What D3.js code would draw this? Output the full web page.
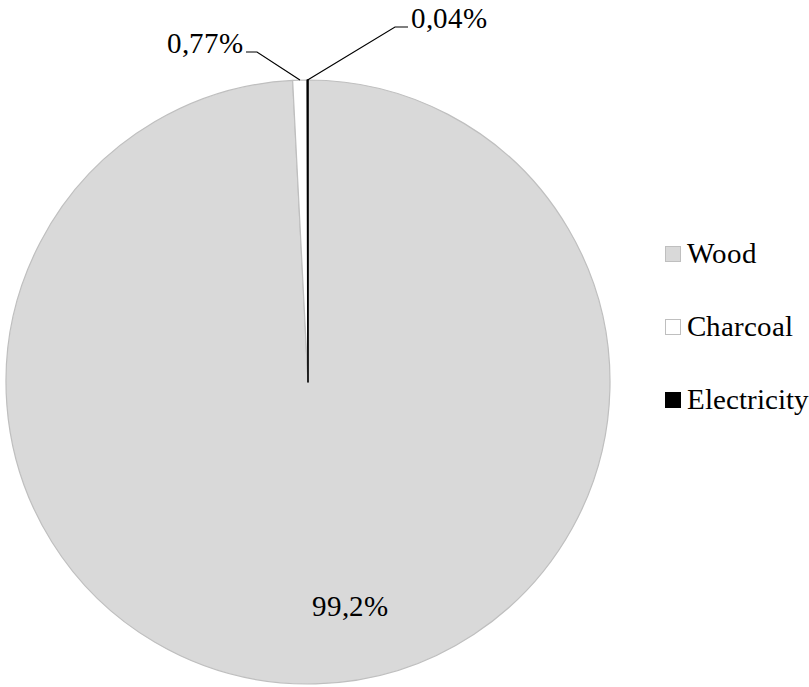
<!DOCTYPE html>
<html>
<head>
<meta charset="utf-8">
<script src="https://cdn.jsdelivr.net/npm/d3@7"></script>
<style>
  @font-face {
    font-family: "ChartSerif";
    src: local("Liberation Serif"), local("LiberationSerif"), local("LiberationSerif-Regular"), local("Times New Roman"), local("Tinos");
  }
  body { margin: 0; font-family: "ChartSerif"; }
  svg text { font-family: "ChartSerif"; }
</style>
</head>
<body>
<svg id="chart" width="809" height="687"></svg>
<script>
// Household energy sources (share of total, %)
const categories = ["Wood", "Charcoal", "Electricity"];
const values = [99.2, 0.77, 0.04];
const valueLabels = ["99,2%", "0,77%", "0,04%"];

const fills = ["#d9d9d9", "#ffffff", "#000000"];
const strokes = ["#bfbfbf", "#bfbfbf", "#000000"];

const cx = 308, cy = 382, R = 302;
const fontSize = 29;

const svg = d3.select("#chart").style("display", "block");

const data = categories.map((c, i) => ({ name: c, value: values[i], label: valueLabels[i], i }));

const pie = d3.pie().sort(null).value(d => d.value);
const arcs = pie(data);
const arc = d3.arc().innerRadius(0).outerRadius(R);

const g = svg.append("g").attr("transform", `translate(${cx},${cy})`);

g.selectAll("path.slice")
  .data(arcs)
  .join("path")
  .attr("class", "slice")
  .attr("d", arc)
  .attr("fill", d => fills[d.data.i])
  .attr("stroke", d => strokes[d.data.i])
  .attr("stroke-width", d => d.data.i === 2 ? 1.6 : 1.2)
  .attr("stroke-linejoin", "round");

// Point on the outer rim at the middle angle of a slice
function rimPoint(a) {
  const m = (a.startAngle + a.endAngle) / 2;
  return [R * Math.sin(m), -R * Math.cos(m)];
}

function label(sel) {
  return sel
    .style("font-family", '"ChartSerif"')
    .attr("font-size", fontSize)
    .attr("fill", "#000");
}

// Large slice: label inside the pie
const woodArc = arcs[0];
const woodLabel = d3.arc().innerRadius(R * 0.76).outerRadius(R * 0.76).centroid(woodArc);
g.append("text")
  .attr("x", woodLabel[0] + 36)
  .attr("y", woodLabel[1] + 5)
  .attr("text-anchor", "middle")
  .call(label)
  .text(woodArc.data.label);

// Small slices: labels outside with elbow leader lines
const callouts = [
  { arc: arcs[1], elbow: [-51, -330], end: [-62, -330], side: -1 },
  { arc: arcs[2], elbow: [87, -355], end: [100, -355], side: 1 }
];

callouts.forEach(c => {
  const p0 = rimPoint(c.arc);
  g.append("path")
    .attr("d", d3.line()([p0, c.elbow, c.end]))
    .attr("fill", "none")
    .attr("stroke", "#000")
    .attr("stroke-width", 1.2);
  g.append("text")
    .attr("x", c.end[0] + c.side * 3)
    .attr("y", c.end[1] + 0.5)
    .attr("text-anchor", c.side < 0 ? "end" : "start")
    .call(label)
    .text(c.arc.data.label);
});

// Legend
const legendY = d3.scalePoint().domain(categories).range([254, 400]);
const legend = svg.append("g");
const item = legend.selectAll("g.item")
  .data(data)
  .join("g")
  .attr("class", "item")
  .attr("transform", d => `translate(665,${legendY(d.name)})`);

item.append("rect")
  .attr("x", 0.5)
  .attr("y", -7.5)
  .attr("width", 15)
  .attr("height", 15)
  .attr("fill", d => fills[d.i])
  .attr("stroke", d => strokes[d.i])
  .attr("stroke-width", 1);

item.append("text")
  .attr("x", 22)
  .attr("y", 9)
  .call(label)
  .text(d => d.name);
</script>
</body>
</html>
